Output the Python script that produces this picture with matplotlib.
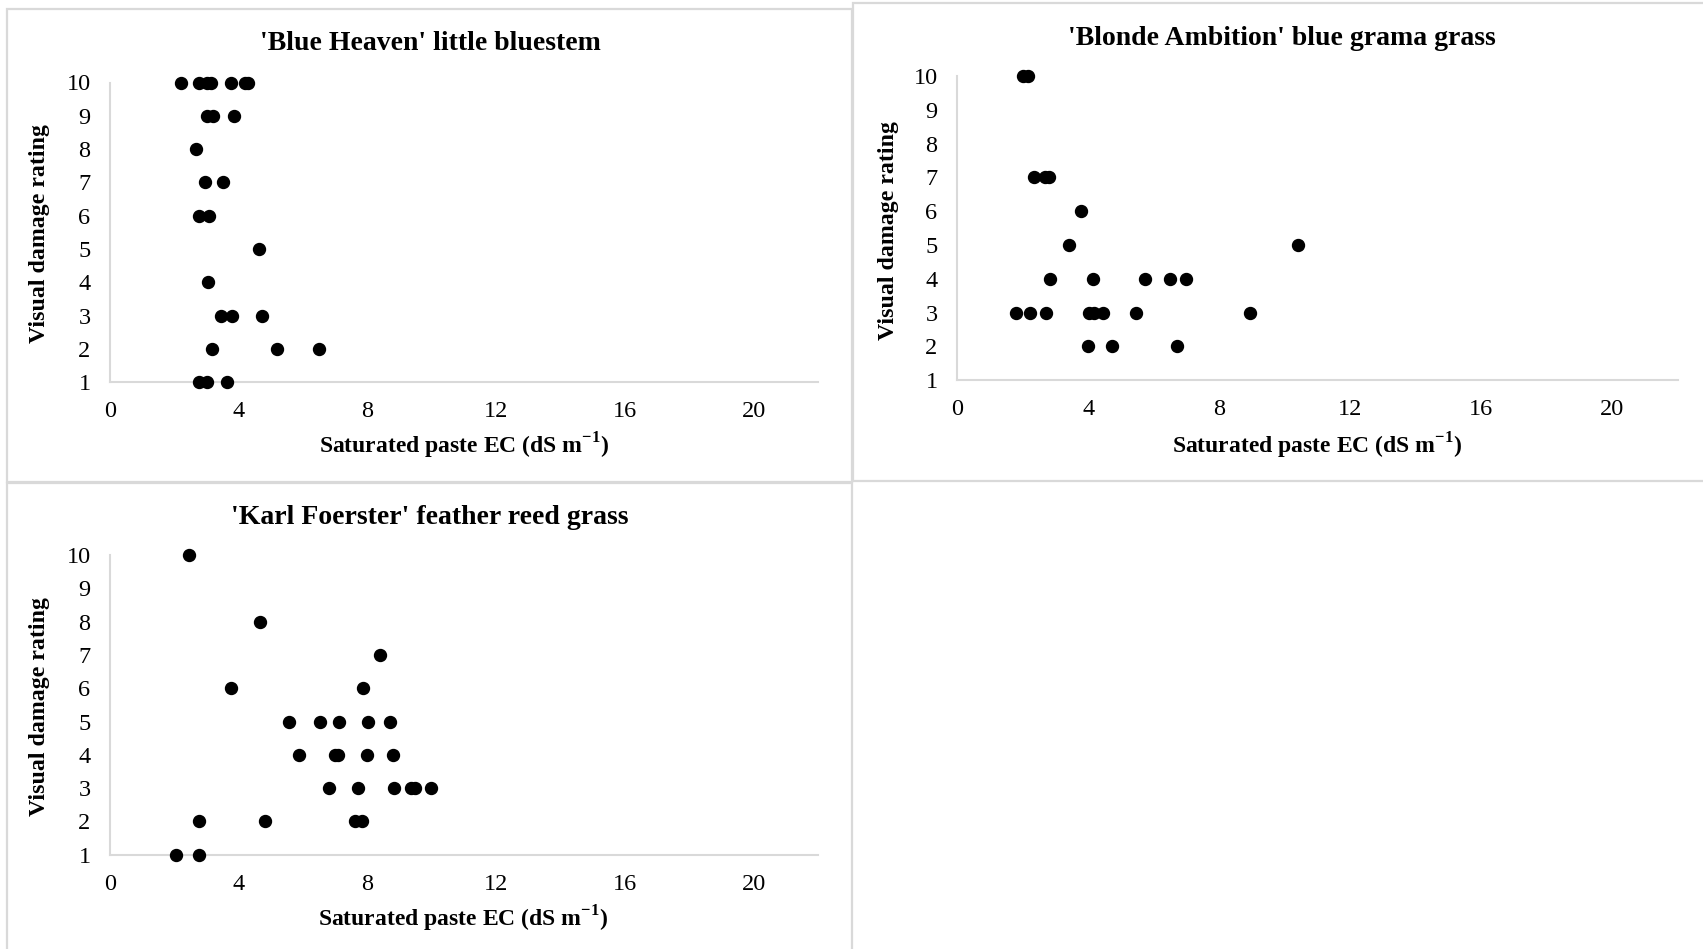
import matplotlib
matplotlib.use("Agg")
import matplotlib.pyplot as plt
from matplotlib.patches import Rectangle

plt.rcParams["font.family"] = ["Liberation Serif", "DejaVu Serif"]
plt.rcParams["mathtext.fontset"] = "custom"
plt.rcParams["mathtext.rm"] = "Liberation Serif"
plt.rcParams["mathtext.bf"] = "Liberation Serif:bold"

# 'Blue Heaven' little bluestem
bh_ec = [2.2, 2.75, 3.0, 3.15, 3.75, 4.2, 4.3,
         3.0, 3.2, 3.85,
         2.67,
         2.95, 3.5,
         2.78, 3.07,
         4.62,
         3.05,
         3.46, 3.8, 4.73,
         3.17, 5.2, 6.5,
         2.78, 3.0, 3.63]
bh_rating = [10, 10, 10, 10, 10, 10, 10,
             9, 9, 9,
             8,
             7, 7,
             6, 6,
             5,
             4,
             3, 3, 3,
             2, 2, 2,
             1, 1, 1]

# 'Blonde Ambition' blue grama grass
ba_ec = [2.0, 2.16,
         2.35, 2.7, 2.8,
         3.78,
         3.41, 10.4,
         2.85, 4.16, 5.74, 6.5, 6.99,
         1.8, 2.23, 2.73, 4.04, 4.18, 4.47, 5.45, 8.93,
         4.01, 4.73, 6.72]
ba_rating = [10, 10,
             7, 7, 7,
             6,
             5, 5,
             4, 4, 4, 4, 4,
             3, 3, 3, 3, 3, 3, 3, 3,
             2, 2, 2]

# 'Karl Foerster' feather reed grass
kf_ec = [2.46,
         4.67,
         8.39,
         3.77, 7.87,
         5.56, 6.54, 7.13, 8.02, 8.69,
         5.86, 6.98, 7.08, 8.0, 8.78,
         6.82, 7.72, 8.81, 9.35, 9.47, 9.97,
         2.75, 4.82, 7.6, 7.82,
         2.04, 2.75]
kf_rating = [10,
             8,
             7,
             6, 6,
             5, 5, 5, 5, 5,
             4, 4, 4, 4, 4,
             3, 3, 3, 3, 3, 3,
             2, 2, 2, 2,
             1, 1]

titles = ["'Blue Heaven' little bluestem",
          "'Blonde Ambition' blue grama grass",
          "'Karl Foerster' feather reed grass"]
x_ticks = [0, 4, 8, 12, 16, 20]
y_ticks = [1, 2, 3, 4, 5, 6, 7, 8, 9, 10]
x_label = r"Saturated paste EC (dS m$^{\mathbf{-1}}$)"
y_label = "Visual damage rating"

W, H = 1703, 949
fig = plt.figure(figsize=(W / 100, H / 100), dpi=100)
fig.patch.set_facecolor("white")

GRID = "#d9d9d9"


def fx(px):
    return px / W


def fy(py):
    return 1 - py / H


# panel frames (left, top, right, bottom) in pixels
frames = [(7.5, 8.5, 852, 482), (853, 3, 1710, 481), (7.5, 483, 852, 960)]
for l, t, r, b in frames:
    fig.patches.append(Rectangle((fx(l), fy(b)), fx(r) - fx(l), fy(t) - fy(b),
                                 transform=fig.transFigure, fill=False,
                                 edgecolor=GRID, linewidth=1.6, zorder=0))

# plot areas: (x of y-axis, x at 22, y at rating 10, y at rating 1)
areas = [(110, 818, 82.5, 382.3),
         (957, 1678, 76, 380.1),
         (110, 818, 555, 854.8)]
title_pos = [(430, 43), (1282, 38.5), (430, 517)]
xlab_pos = [(464, 446), (1317, 446), (463, 918.5)]
ylab_pos = [(40, 234), (888, 231), (40, 707)]
series = [(bh_ec, bh_rating), (ba_ec, ba_rating), (kf_ec, kf_rating)]

for i in range(3):
    x0, x1, ytop, ybot = areas[i]
    ax = fig.add_axes([fx(x0), fy(ybot), fx(x1) - fx(x0), fy(ytop) - fy(ybot)])
    ax.set_xlim(0, 22)
    ax.set_ylim(1, 10)
    for s in ["top", "right"]:
        ax.spines[s].set_visible(False)
    for s in ["left", "bottom"]:
        ax.spines[s].set_color(GRID)
        ax.spines[s].set_linewidth(1.5)
    ax.set_xticks(x_ticks)
    ax.set_yticks(y_ticks)
    ax.tick_params(length=0, labelsize=17.5, colors="black")
    ax.tick_params(axis="x", pad=13.5)
    ax.tick_params(axis="y", pad=14)
    ax.patch.set_alpha(0)
    xs, ys = series[i]
    ax.plot(xs, ys, linestyle="none", marker="o", markersize=8.6,
            color="black", clip_on=False, zorder=3)

    tx, ty = title_pos[i]
    fig.text(fx(tx), fy(ty), titles[i], ha="center", va="center",
             fontsize=20, fontweight="bold")
    lx, ly = xlab_pos[i]
    fig.text(fx(lx), fy(ly), x_label, ha="center", va="center",
             fontsize=17, fontweight="bold")
    vx, vy = ylab_pos[i]
    fig.text(fx(vx), fy(vy), y_label, ha="center", va="center",
             rotation=90, fontsize=17.2, fontweight="bold")

fig.savefig("out.png", dpi=100, facecolor="white")
